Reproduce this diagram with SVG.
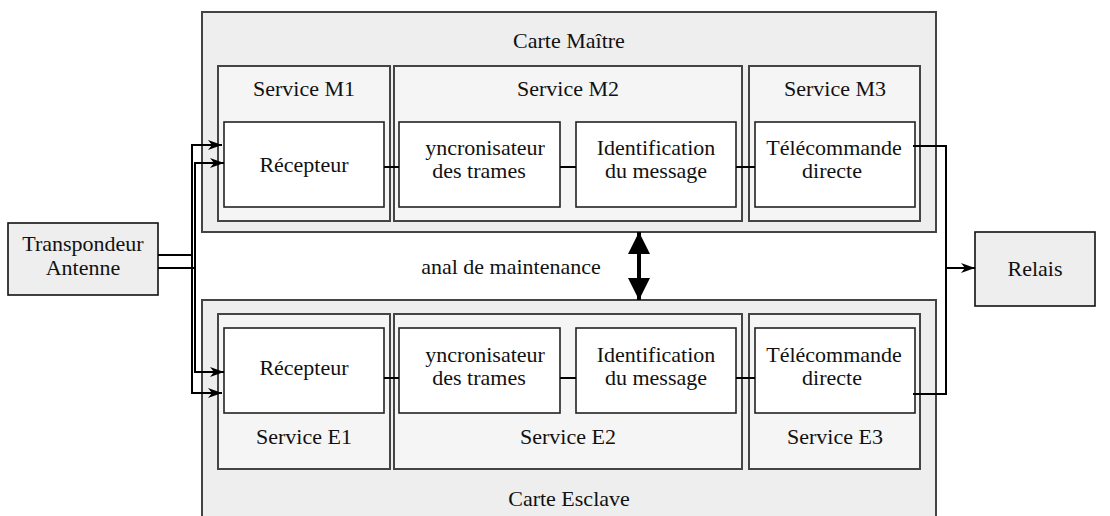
<svg xmlns="http://www.w3.org/2000/svg" width="1110" height="516" viewBox="0 0 1110 516">
<style>
text{font-family:"Liberation Serif","Times New Roman",serif;font-size:22px;fill:#111;text-anchor:middle}
.card{fill:#eeeeee;stroke:#444;stroke-width:2}
.svc{fill:#f5f5f5;stroke:#444;stroke-width:2}
.blk{fill:#ffffff;stroke:#222;stroke-width:1.6}
.ext{fill:#eeeeee;stroke:#111;stroke-width:1.6}
.wire{fill:none;stroke:#000;stroke-width:2}
</style>
<defs>
<marker id="arr" viewBox="0 0 14 10" refX="14" refY="5" markerWidth="14" markerHeight="10" markerUnits="userSpaceOnUse" orient="auto">
<path d="M0,0 L14,5 L0,10 L4,5 z" fill="#000"/>
</marker>
<marker id="big" viewBox="0 0 22 22" refX="22" refY="11" markerWidth="22" markerHeight="22" markerUnits="userSpaceOnUse" orient="auto-start-reverse">
<path d="M0,0 L22,11 L0,22 z" fill="#000"/>
</marker>
</defs>

<g id="carte-maitre">
<rect class="card" x="202" y="12" width="734" height="220"/>
<text x="569" y="48">Carte Maître</text>
</g>
<g id="service-m1">
<rect class="svc" x="218" y="66" width="172" height="155"/>
<text x="304" y="96">Service M1</text>
</g>
<g id="service-m2">
<rect class="svc" x="394" y="66" width="348" height="155"/>
<text x="568" y="96">Service M2</text>
</g>
<g id="service-m3">
<rect class="svc" x="749" y="66" width="171" height="155"/>
<text x="835" y="96">Service M3</text>
</g>
<g id="recepteur-m">
<rect class="blk" x="224" y="122" width="160" height="85"/>
<text x="304" y="172">Récepteur</text>
</g>
<g id="sync-m">
<rect class="blk" x="399" y="122" width="161" height="85"/>
<text x="485" y="155">yncronisateur</text>
<text x="479" y="178">des trames</text>
</g>
<g id="ident-m">
<rect class="blk" x="576" y="122" width="160" height="85"/>
<text x="656" y="155">Identification</text>
<text x="656" y="178">du message</text>
</g>
<g id="telecommande-m">
<rect class="blk" x="755" y="122" width="160" height="85"/>
<text x="834" y="155">Télécommande</text>
<text x="832" y="178">directe</text>
</g>

<g id="carte-esclave">
<rect class="card" x="202" y="300" width="734" height="224"/>
<text x="569" y="506">Carte Esclave</text>
</g>
<g id="service-e1">
<rect class="svc" x="218" y="314" width="172" height="155"/>
<text x="304" y="444">Service E1</text>
</g>
<g id="service-e2">
<rect class="svc" x="394" y="314" width="348" height="155"/>
<text x="568" y="444">Service E2</text>
</g>
<g id="service-e3">
<rect class="svc" x="749" y="314" width="171" height="155"/>
<text x="835" y="444">Service E3</text>
</g>
<g id="recepteur-e">
<rect class="blk" x="224" y="328" width="160" height="85"/>
<text x="304" y="375">Récepteur</text>
</g>
<g id="sync-e">
<rect class="blk" x="399" y="328" width="161" height="85"/>
<text x="485" y="362">yncronisateur</text>
<text x="479" y="385">des trames</text>
</g>
<g id="ident-e">
<rect class="blk" x="576" y="328" width="160" height="85"/>
<text x="656" y="362">Identification</text>
<text x="656" y="385">du message</text>
</g>
<g id="telecommande-e">
<rect class="blk" x="755" y="328" width="160" height="85"/>
<text x="834" y="362">Télécommande</text>
<text x="832" y="385">directe</text>
</g>

<g id="transpondeur">
<rect class="ext" x="8" y="223" width="150" height="72"/>
<text x="83" y="251">Transpondeur</text>
<text x="83" y="275">Antenne</text>
</g>
<g id="relais">
<rect class="ext" x="975" y="232" width="120" height="74"/>
<text x="1035" y="276">Relais</text>
</g>
<g id="maintenance-label">
<text x="511" y="274">anal de maintenance</text>
</g>

<g id="connectors">
<path class="wire" d="M158,255 H192 V145 H222" marker-end="url(#arr)"/>
<path class="wire" d="M158,268 H195 V163 H224" marker-end="url(#arr)"/>
<path class="wire" d="M192,255 V393 H222" marker-end="url(#arr)"/>
<path class="wire" d="M195,268 V372 H224" marker-end="url(#arr)"/>
<path class="wire" d="M384,167 H399 M560,167 H576 M736,167 H755"/>
<path class="wire" d="M384,378 H399 M560,378 H576 M736,378 H755"/>
<path class="wire" d="M913,146 H946 V394 H913"/>
<path class="wire" d="M946,268 H975" marker-end="url(#arr)"/>
<path d="M639,232 V300" fill="none" stroke="#000" stroke-width="4" marker-start="url(#big)" marker-end="url(#big)"/>
</g>
</svg>
